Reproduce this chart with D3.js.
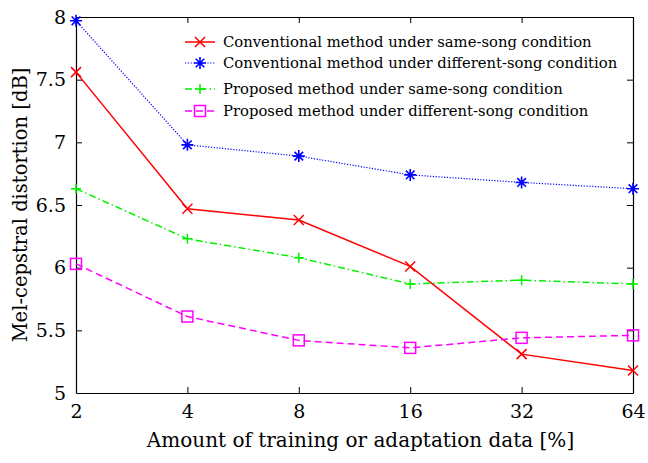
<!DOCTYPE html>
<html><head><meta charset="utf-8">
<script src="https://cdn.jsdelivr.net/npm/d3@7"></script>
<style>body{margin:0;background:#fff}svg{display:block}text{font-family:"DejaVu Serif",serif;fill:#000}</style>
</head><body>
<svg id="c" width="648" height="463"></svg>
<script>
const xCats = [2, 4, 8, 16, 32, 64];
const yTicks = [5, 5.5, 6, 6.5, 7, 7.5, 8];
const convSame = [7.56, 6.47, 6.38, 6.01, 5.31, 5.18];
const convDiff = [7.97, 6.98, 6.89, 6.74, 6.68, 6.63];
const propSame = [6.63, 6.23, 6.08, 5.87, 5.90, 5.87];
const propDiff = [6.03, 5.61, 5.42, 5.36, 5.44, 5.46];
const seriesNames = [
  "Conventional method under same-song condition",
  "Conventional method under different-song condition",
  "Proposed method under same-song condition",
  "Proposed method under different-song condition"
];

const W = 648, H = 463;
const m = {l: 76, r: 15, t: 17, b: 70};
const svg = d3.select("#c");
const x = d3.scaleLog().base(2).domain([2, 64]).range([m.l, W - m.r]);
const y = d3.scaleLinear().domain([5, 8]).range([H - m.b, m.t]);

const series = [
  {name: seriesNames[0], vals: convSame, color: "#ff0000", dash: null, w: 1.5, marker: "x"},
  {name: seriesNames[1], vals: convDiff, color: "#0000ff", dash: "1.2,1.6", w: 1.2, marker: "star"},
  {name: seriesNames[2], vals: propSame, color: "#00f000", dash: "7,3,1.5,3", w: 1.5, marker: "plus"},
  {name: seriesNames[3], vals: propDiff, color: "#ff00ff", dash: "7,4", w: 1.5, marker: "square"}
];

const tickLen = 6;
const xAxis = d3.axisBottom(x).tickValues(xCats).tickFormat(d3.format("d")).tickSizeInner(-tickLen).tickSizeOuter(0).tickPadding(12);
const gx = svg.append("g").attr("transform", `translate(0,${y(5)})`).call(xAxis);
const xAxisTop = d3.axisTop(x).tickValues(xCats).tickFormat("").tickSizeInner(-tickLen).tickSizeOuter(0);
svg.append("g").attr("transform", `translate(0,${y(8)})`).call(xAxisTop);
const yAxis = d3.axisLeft(y).tickValues(yTicks).tickFormat(d => String(d)).tickSizeInner(-tickLen).tickSizeOuter(0).tickPadding(10);
const gy = svg.append("g").attr("transform", `translate(${x(2)},0)`).call(yAxis);
const yAxisR = d3.axisRight(y).tickValues(yTicks).tickFormat("").tickSizeInner(-tickLen).tickSizeOuter(0);
svg.append("g").attr("transform", `translate(${x(64)},0)`).call(yAxisR);
svg.selectAll(".domain").attr("stroke", "#000").attr("stroke-width", 1.2);
svg.selectAll(".tick line").attr("stroke", "#000").attr("stroke-width", 1);
gx.selectAll("text").style("font-size", "19px").attr("fill", "#000");
gy.selectAll("text").style("font-size", "19px").attr("fill", "#000");
gx.selectAll(".tick").filter(d => d === 2 || d === 64).select("line").remove();
gy.selectAll(".tick").filter(d => d === 5 || d === 8).select("line").remove();

svg.append("text").attr("x", (x(2) + x(64)) / 2 + 6).attr("y", 447).attr("text-anchor", "middle")
  .style("font-size", "20px").text("Amount of training or adaptation data [%]");
svg.append("text").attr("transform", `translate(27,${(y(5) + y(8)) / 2}) rotate(-90)`).attr("text-anchor", "middle")
  .style("font-size", "19.5px").text("Mel-cepstral distortion [dB]");

function drawMarker(g, type, cx, cy, color) {
  const s = 5;
  if (type === "x") {
    g.append("path").attr("d", `M${cx-s},${cy-s}L${cx+s},${cy+s}M${cx-s},${cy+s}L${cx+s},${cy-s}`)
      .attr("stroke", color).attr("stroke-width", 1.5).attr("fill", "none");
  } else if (type === "plus") {
    g.append("path").attr("d", `M${cx-s},${cy}L${cx+s},${cy}M${cx},${cy-s}L${cx},${cy+s}`)
      .attr("stroke", color).attr("stroke-width", 1.5).attr("fill", "none");
  } else if (type === "star") {
    const r = 6, t = 4.3;
    g.append("path").attr("d", `M${cx-r},${cy}L${cx+r},${cy}M${cx},${cy-r}L${cx},${cy+r}M${cx-t},${cy-t}L${cx+t},${cy+t}M${cx-t},${cy+t}L${cx+t},${cy-t}`)
      .attr("stroke", color).attr("stroke-width", 1.6).attr("fill", "none");
  } else if (type === "square") {
    g.append("rect").attr("x", cx - 5.5).attr("y", cy - 5.5).attr("width", 11).attr("height", 11)
      .attr("stroke", color).attr("stroke-width", 1.5).attr("fill", "none");
  }
}

const line = d3.line().x((d, i) => x(xCats[i])).y(d => y(d));
series.forEach(s => {
  const g = svg.append("g");
  g.append("path").datum(s.vals).attr("d", line).attr("fill", "none")
    .attr("stroke", s.color).attr("stroke-width", s.w).attr("stroke-dasharray", s.dash);
  s.vals.forEach((v, i) => drawMarker(g, s.marker, x(xCats[i]), y(v), s.color));
});

const legY = [42, 63, 89, 111];
series.forEach((s, i) => {
  const g = svg.append("g");
  const yy = legY[i];
  g.append("line").attr("x1", 185).attr("x2", 215).attr("y1", yy).attr("y2", yy)
    .attr("stroke", s.color).attr("stroke-width", s.w).attr("stroke-dasharray", s.dash);
  drawMarker(g, s.marker, 200, yy, s.color);
  g.append("text").attr("x", 223).attr("y", yy + 5).style("font-size", "14.8px").text(s.name);
});
</script>
</body></html>
